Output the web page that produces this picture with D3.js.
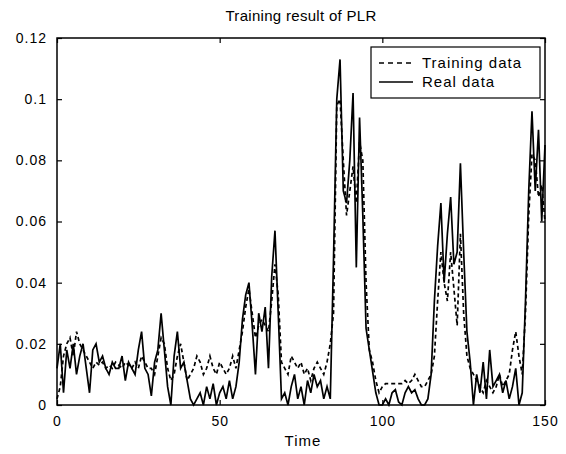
<!DOCTYPE html>
<html>
<head>
<meta charset="utf-8">
<script src="https://cdn.jsdelivr.net/npm/d3@7"></script>
<style>
  body { margin: 0; background: #fff; }
  text { font-family: "Liberation Sans", Arial, sans-serif; fill: #000; }
</style>
</head>
<body>
<div id="chart"></div>
<script>
// time axis is 0..150, one value per step
var realData = [
  0.012, 0.020, 0.004, 0.018, 0.012, 0.020, 0.010, 0.016, 0.020, 0.012,
  0.004, 0.018, 0.020, 0.014, 0.016, 0.012, 0.010, 0.014, 0.012, 0.012,
  0.016, 0.008, 0.014, 0.012, 0.010, 0.018, 0.024, 0.012, 0.010, 0.003,
  0.014, 0.018, 0.030, 0.018, 0.006, 0.000, 0.016, 0.024, 0.012, 0.014,
  0.008, 0.002, 0.000, 0.002, 0.004, 0.000, 0.006, 0.002, 0.007, 0.000,
  0.004, 0.006, 0.002, 0.008, 0.002, 0.006, 0.014, 0.028, 0.036, 0.040,
  0.026, 0.010, 0.030, 0.024, 0.032, 0.012, 0.042, 0.057, 0.030, 0.002,
  0.004, 0.000, 0.006, 0.010, 0.002, 0.006, 0.000, 0.008, 0.004, 0.010,
  0.006, 0.008, 0.002, 0.006, 0.002, 0.048, 0.100, 0.113, 0.070, 0.066,
  0.080, 0.102, 0.045, 0.094, 0.062, 0.025, 0.018, 0.011, 0.004, 0.000,
  0.000, 0.002, 0.000, 0.004, 0.005, 0.001, 0.000, 0.004, 0.006, 0.004,
  0.005, 0.002, 0.000, 0.000, 0.002, 0.010, 0.034, 0.052, 0.066, 0.040,
  0.056, 0.068, 0.046, 0.050, 0.079, 0.050, 0.024, 0.014, 0.000, 0.010,
  0.004, 0.014, 0.002, 0.018, 0.006, 0.008, 0.010, 0.004, 0.008, 0.002,
  0.006, 0.012, 0.000, 0.004, 0.034, 0.070, 0.096, 0.070, 0.090, 0.060,
  0.085
];

var trainingData = [
  0.002, 0.006, 0.016, 0.020, 0.022, 0.016, 0.024, 0.020, 0.018, 0.016,
  0.014, 0.012, 0.014, 0.013, 0.014, 0.012, 0.013, 0.012, 0.014, 0.013,
  0.012, 0.014, 0.013, 0.012, 0.014, 0.012, 0.016, 0.014, 0.012, 0.012,
  0.010, 0.016, 0.022, 0.020, 0.012, 0.008, 0.010, 0.016, 0.020, 0.014,
  0.008, 0.010, 0.012, 0.016, 0.014, 0.010, 0.012, 0.016, 0.012, 0.010,
  0.014, 0.012, 0.010, 0.012, 0.016, 0.012, 0.018, 0.024, 0.032, 0.038,
  0.030, 0.022, 0.026, 0.028, 0.026, 0.024, 0.034, 0.046, 0.036, 0.014,
  0.012, 0.010, 0.016, 0.014, 0.012, 0.014, 0.010, 0.012, 0.008, 0.012,
  0.014, 0.012, 0.010, 0.014, 0.020, 0.030, 0.098, 0.100, 0.080, 0.062,
  0.070, 0.078, 0.066, 0.086, 0.080, 0.040, 0.018, 0.014, 0.008, 0.004,
  0.006, 0.007, 0.007, 0.007, 0.007, 0.007, 0.007, 0.008, 0.007, 0.008,
  0.010, 0.008, 0.006, 0.006, 0.008, 0.010, 0.016, 0.034, 0.050, 0.040,
  0.034, 0.050, 0.038, 0.026, 0.056, 0.030, 0.016, 0.012, 0.010, 0.008,
  0.006, 0.004, 0.008, 0.006, 0.004, 0.006, 0.010, 0.006, 0.008, 0.010,
  0.018, 0.024, 0.016, 0.010, 0.030, 0.062, 0.082, 0.080, 0.068, 0.072,
  0.060
];

var xTicks = [0, 50, 100, 150];
var yTicks = [0, 0.02, 0.04, 0.06, 0.08, 0.1, 0.12];
var yTickLabels = ["0", "0.02", "0.04", "0.06", "0.08", "0.1", "0.12"];
var legendLabels = ["Training data", "Real data"];

var width = 566, height = 454;
var margin = {top: 38, right: 21, bottom: 49, left: 57};
var w = width - margin.left - margin.right,
    h = height - margin.top - margin.bottom;

var svg = d3.select("#chart").append("svg")
    .attr("width", width).attr("height", height);

var x = d3.scaleLinear().domain([0, 150]).range([margin.left, margin.left + w]);
var y = d3.scaleLinear().domain([0, 0.12]).range([margin.top + h, margin.top]);

var line = d3.line()
    .x(function(d, i) { return x(i); })
    .y(function(d) { return y(d); });

// series
svg.append("path").datum(trainingData)
    .attr("d", line)
    .attr("fill", "none").attr("stroke", "#000")
    .attr("stroke-width", 1.7).attr("stroke-dasharray", "4,3");

svg.append("path").datum(realData)
    .attr("d", line)
    .attr("fill", "none").attr("stroke", "#000")
    .attr("stroke-width", 1.7);

// axes, ticks inside like matlab
var tickLen = 5;
svg.append("g").attr("transform", "translate(0," + (margin.top + h) + ")")
    .call(d3.axisBottom(x).tickValues(xTicks).tickSizeInner(-tickLen).tickSizeOuter(0).tickPadding(11))
    .call(function(g) { g.select(".domain").remove(); });
svg.append("g").attr("transform", "translate(0," + margin.top + ")")
    .call(d3.axisTop(x).tickValues(xTicks).tickSizeInner(-tickLen).tickSizeOuter(0).tickFormat(""))
    .call(function(g) { g.select(".domain").remove(); });
svg.append("g").attr("transform", "translate(" + margin.left + ",0)")
    .call(d3.axisLeft(y).tickValues(yTicks).tickSizeInner(-tickLen).tickSizeOuter(0).tickPadding(10)
      .tickFormat(function(d, i) { return yTickLabels[i]; }))
    .call(function(g) { g.select(".domain").remove(); });
svg.append("g").attr("transform", "translate(" + (margin.left + w) + ",0)")
    .call(d3.axisRight(y).tickValues(yTicks).tickSizeInner(-tickLen).tickSizeOuter(0).tickFormat(""))
    .call(function(g) { g.select(".domain").remove(); });

svg.selectAll(".tick text")
    .style("font-family", "'Liberation Sans', Arial, sans-serif")
    .style("font-size", "14px").style("letter-spacing", "1px").attr("fill", "#000");
svg.selectAll(".tick line").attr("stroke", "#000").attr("stroke-width", 1.2);

svg.append("rect")
    .attr("x", margin.left).attr("y", margin.top)
    .attr("width", w).attr("height", h)
    .attr("fill", "none").attr("stroke", "#000").attr("stroke-width", 1.5);

// title and label
svg.append("text")
    .attr("x", margin.left + w / 2).attr("y", 21)
    .attr("text-anchor", "middle").style("font-size", "15px").style("letter-spacing", "0.3px")
    .text("Training result of PLR");
svg.append("text")
    .attr("x", margin.left + w / 2 + 2).attr("y", 446)
    .attr("text-anchor", "middle").style("font-size", "15px").style("letter-spacing", "1px")
    .text("Time");

// legend
var lg = svg.append("g").attr("transform", "translate(371,47)");
lg.append("rect").attr("width", 169).attr("height", 51)
    .attr("fill", "#fff").attr("stroke", "#000").attr("stroke-width", 1.2);
lg.selectAll("line.key").data(legendLabels).enter().append("line")
    .attr("x1", 8).attr("x2", 42)
    .attr("y1", function(d, i) { return 16 + i * 19; })
    .attr("y2", function(d, i) { return 16 + i * 19; })
    .attr("stroke", "#000").attr("stroke-width", 1.4)
    .attr("stroke-dasharray", function(d, i) { return i === 0 ? "5,4" : null; });
lg.selectAll("text").data(legendLabels).enter().append("text")
    .attr("x", 51)
    .attr("y", function(d, i) { return 21 + i * 19; })
    .style("font-size", "15px").style("letter-spacing", "1px")
    .text(function(d) { return d; });
</script>
</body>
</html>
